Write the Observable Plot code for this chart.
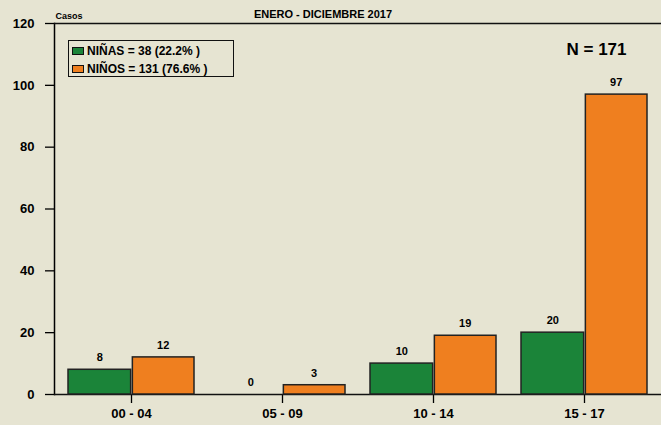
<!DOCTYPE html>
<html>
<head>
<meta charset="utf-8">
<script src="https://cdn.jsdelivr.net/npm/d3@7"></script>
<script src="https://cdn.jsdelivr.net/npm/@observablehq/plot@0.6"></script>
<style>
  html, body { margin: 0; padding: 0; background: #e6e4d2; }
  #wrap { position: relative; width: 661px; height: 425px; font-family: "Liberation Sans", Arial, sans-serif; }
  #legend { position: absolute; left: 68px; top: 40px; width: 164px; height: 35px; border: 1px solid #111; box-sizing: content-box;
            font-size: 12px; font-weight: bold; color: #000; }
  .row { position: absolute; left: 3px; display: flex; align-items: center; height: 16px; }
  .sw { width: 10px; height: 6px; border: 1px solid #111; margin-right: 3px; }
</style>
</head>
<body>
<div id="wrap"></div>
<script>
const categorias = ["00 - 04", "05 - 09", "10 - 14", "15 - 17"];
const ninas = [8, 0, 10, 20];
const ninos = [12, 3, 19, 97];
const yTicks = [0, 20, 40, 60, 80, 100, 120];
const series = ["NIÑAS = 38 (22.2% )", "NIÑOS = 131 (76.6% )"];
const colores = ["#1b8439", "#ef7f1f"];
const titulo = "ENERO - DICIEMBRE 2017";
const yLabel = "Casos";
const total = "N = 171";

const data = categorias.map((c, i) => ({grupo: c, ninas: ninas[i], ninos: ninos[i]}));

const W = 661, ML = 54, MR = 0;
const pi = 0.165;
const step = (W - ML - MR) / (categorias.length - pi + pi);
const half = step * (1 - pi) / 2;

const chart = Plot.plot({
  width: W, height: 425,
  marginLeft: ML, marginRight: MR, marginTop: 23, marginBottom: 31,
  style: {background: "#e6e4d2", fontFamily: "'Liberation Sans', Arial, sans-serif", fontWeight: "bold", color: "#000", overflow: "visible"},
  x: {domain: categorias, paddingInner: pi, paddingOuter: pi / 2, label: null},
  y: {domain: [0, 120], label: null},
  marks: [
    Plot.axisY({ticks: yTicks, tickSize: 9, tickPadding: 11, fontSize: 13, label: null, strokeWidth: 1.3}),
    Plot.axisX({tickSize: 9, tickPadding: 5, fontSize: 13, label: null, strokeWidth: 1.3}),
    Plot.frame({anchor: "left", strokeWidth: 1.5}),
    Plot.ruleY([0, 120], {stroke: "#111", strokeWidth: 1.5}),
    Plot.barY(data, {x: "grupo", y: "ninas", fill: colores[0], stroke: "#222", strokeWidth: 1.5, insetRight: half, insetLeft: 0}),
    Plot.barY(data, {x: "grupo", y: "ninos", fill: colores[1], stroke: "#222", strokeWidth: 1.5, insetLeft: half + 1}),
    Plot.text(data, {x: "grupo", y: "ninas", text: "ninas", dx: -half / 2, dy: -12, fontSize: 11, fontWeight: "bold"}),
    Plot.text(data, {x: "grupo", y: "ninos", text: "ninos", dx: half / 2, dy: -12, fontSize: 11, fontWeight: "bold"}),
    Plot.text([titulo], {frameAnchor: "top", dx: -35, dy: -13, fontSize: 11, fontWeight: "bold"}),
    Plot.text([yLabel], {frameAnchor: "top-left", textAnchor: "start", dx: 1, dy: -11, fontSize: 9, fontWeight: "bold"}),
    Plot.text([total], {frameAnchor: "top-right", textAnchor: "end", dx: -35, dy: 19, fontSize: 17, fontWeight: "bold"})
  ]
});

const wrap = document.getElementById("wrap");
wrap.appendChild(chart);
const legend = document.createElement("div");
legend.id = "legend";
series.forEach((s, i) => {
  const row = document.createElement("div");
  row.className = "row";
  row.style.top = (2 + i * 18) + "px";
  const sw = document.createElement("div");
  sw.className = "sw";
  sw.style.background = colores[i];
  const t = document.createElement("span");
  t.textContent = s;
  row.appendChild(sw);
  row.appendChild(t);
  legend.appendChild(row);
});
wrap.appendChild(legend);
</script>
</body>
</html>
